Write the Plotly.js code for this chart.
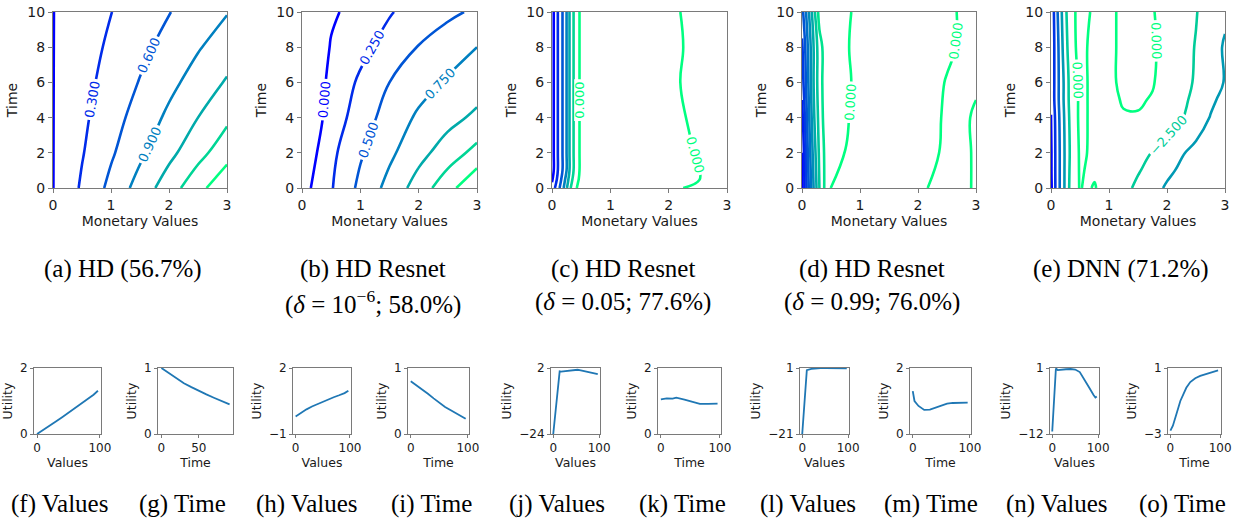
<!DOCTYPE html>
<html>
<head>
<meta charset="utf-8">
<script src="https://cdn.plot.ly/plotly-3.0.1.min.js"></script>
<style>html,body{margin:0;padding:0;background:#fff;}#chart{width:1239px;height:521px;}</style>
</head>
<body>
<div id="chart"></div>
<script>
// ---------- contour data ----------
const aX = [0, 0.5, 1, 1.5, 2, 2.5, 3];
const aT = [0, 2, 4, 6, 8, 10];
const aZ = [
  [-0.005, 0.34, 0.68, 1.02, 1.36, 1.70, 2.04],
  [-0.005, 0.28, 0.56, 0.84, 1.12, 1.40, 1.68],
  [-0.005, 0.24, 0.48, 0.72, 0.96, 1.20, 1.44],
  [-0.005, 0.205, 0.41, 0.615, 0.82, 1.025, 1.23],
  [-0.005, 0.175, 0.35, 0.525, 0.70, 0.875, 1.05],
  [-0.005, 0.148, 0.295, 0.443, 0.59, 0.738, 0.885]
];
const aLevels = [0, 1.8, 0.3];

const bX = [0, 0.5, 1, 1.5, 2, 2.5, 3];
const bT = [0, 2, 4, 6, 8, 10];
const bZ = [
  [-0.10, 0.23, 0.56, 0.83, 1.11, 1.41, 1.72],
  [-0.20, 0.19, 0.47, 0.70, 0.92, 1.12, 1.33],
  [-0.25, 0.10, 0.38, 0.60, 0.79, 0.92, 1.05],
  [-0.30, 0.07, 0.29, 0.50, 0.65, 0.78, 0.88],
  [-0.35, 0.02, 0.18, 0.35, 0.51, 0.63, 0.75],
  [-0.40, -0.04, 0.10, 0.23, 0.36, 0.45, 0.54]
];
const bLevels = [0, 1.5, 0.25];

const cX = [0, 0.05, 0.1, 0.15, 0.2, 0.25, 0.3, 0.35, 0.4, 0.45, 0.5, 1, 1.5, 2, 2.5, 3];
const cT = [0, 0.5, 1, 2, 4, 6, 8, 10];
const cZ = [
  [-23, -20, -17.5, -15, -12, -8.5, -5, -2.5, -0.3, 0.3, 0.6, 1.3, 1.5, 0.8, -0.8, -1.2],
  [-24.5, -22, -19, -16.5, -13.5, -10.5, -6.5, -4, -1.5, -0.1, 0.5, 1.4, 1.55, 0.8, 0.15, -1.2],
  [-25.5, -23, -20, -17.5, -15, -12, -8, -5, -2.5, -0.3, 0.4, 1.5, 1.6, 0.8, 0.08, -1.2],
  [-25.5, -23, -20, -17.5, -15, -12, -8, -5, -2.5, -0.3, 0.4, 1.5, 1.6, 0.8, -0.1, -1.2],
  [-25.5, -23, -20, -17.5, -15, -12, -8, -5, -2.5, -0.3, 0.4, 1.5, 1.6, 0.8, -0.55, -1.2],
  [-25.5, -23, -20, -17.5, -15, -12, -8, -5, -2.5, -0.3, 0.4, 1.5, 1.6, 0.8, -1.2, -1.2],
  [-25.5, -23, -20, -17.5, -15, -12, -8, -5, -2.5, -0.3, 0.4, 1.5, 1.6, 0.8, -0.8, -1.2],
  [-25.5, -23, -20, -17.5, -15, -12, -8, -5, -2.5, -0.3, 0.4, 1.5, 1.6, 0.8, -1.2, -1.2]
];
const cLevels = [-24, 0, 4];

const dX = [0, 0.1, 0.2, 0.3, 0.4, 0.5, 0.75, 1, 1.5, 2, 2.5, 2.75, 3];
const dT = [0, 2, 4, 6, 8, 10];
const dZ = [
  [-23, -16, -10, -5, -2, 0.1, 0.3, 0.4, 0.5, 0.1, -0.2, -0.1, 0.05],
  [-22.5, -15, -9, -4.5, -2, -0.6, 0.02, 0.3, 0.5, 0.4, -0.15, -0.2, 0.1],
  [-21, -14, -8, -4, -1.5, -0.8, -0.1, 0.3, 0.5, 0.4, -0.1, -0.15, 0.1],
  [-19, -13, -7.5, -3.5, -1.5, -1, -0.2, 0.3, 0.6, 0.5, -0.05, -0.2, -0.1],
  [-18, -12.5, -7.5, -3.5, -1.5, -1, -0.1, 0.3, 0.6, 0.5, 0.15, -0.1, -0.2],
  [-16, -11, -6, -1.5, -0.8, -0.6, -0.2, 0.3, 0.6, 0.5, 0.2, -0.1, -0.2]
];
const dLevels = [-22.5, 0, 2.5];

const eX = [0, 0.1, 0.2, 0.3, 0.4, 0.5, 0.6, 0.75, 1, 1.25, 1.5, 1.75, 2, 2.25, 2.5, 2.75, 3];
const eT = [0, 1, 2, 4, 5, 6, 8, 10];
const eZ = [
  [-13, -9, -6, -2.8, -0.6, 0.1, -0.2, 0.1, -0.8, -1.8, -3.0, -4.2, -5.3, -5.8, -6.2, -6.6, -7.0],
  [-12.8, -9, -6, -2.9, -0.7, 0.15, -0.05, -0.2, -0.8, -1.5, -2.3, -3.3, -4.5, -5.4, -6.0, -6.5, -7.0],
  [-12.8, -9, -6, -3, -0.8, 0.2, 0.05, -0.3, -0.7, -1.2, -1.8, -2.6, -3.5, -4.8, -5.6, -6.2, -6.8],
  [-12.6, -8.8, -5.8, -2.8, -0.6, 0.3, 0.1, -0.4, -0.4, -0.1, -0.1, -0.4, -1.2, -2.3, -3.8, -5.1, -6.0],
  [-12, -8.5, -5.5, -2.6, -0.6, 0.3, 0.1, -0.4, -0.3, 0.1, 0.15, -0.1, -0.8, -1.9, -3.2, -4.6, -5.6],
  [-12, -8.5, -5.5, -2.6, -0.5, 0.3, 0.1, -0.4, -0.2, 0.2, 0.3, 0.1, -0.6, -1.6, -2.8, -4.2, -5.1],
  [-12, -8.5, -5, -2, -0.2, 0.5, 0.1, -0.5, -0.4, 0.4, 0.5, 0.3, -0.8, -1.8, -2.6, -3.8, -5.3],
  [-12, -8, -4.5, -1.5, -0.1, 0.4, 0.2, -0.2, -0.3, 0.3, 0.5, 0.1, -0.6, -1.5, -2.4, -3.5, -4.5]
];
const eLevels = [-12.5, 0, 2.5];

// ---------- utility curves ----------
const fX = [0, 10, 20, 30, 40, 50, 60, 70, 80, 90, 97];
const fY = [0, 0.12, 0.25, 0.38, 0.51, 0.64, 0.78, 0.92, 1.05, 1.19, 1.31];
const gX = [0, 10, 20, 30, 40, 50, 60, 70, 80, 91];
const gY = [1.0, 0.92, 0.84, 0.77, 0.71, 0.65, 0.60, 0.55, 0.50, 0.45];
const hX = [0, 10, 20, 30, 40, 50, 60, 70, 80, 90, 97];
const hY = [-0.2, -0.03, 0.12, 0.25, 0.36, 0.47, 0.57, 0.67, 0.76, 0.86, 0.97];
const iX = [0, 10, 20, 30, 40, 50, 60, 70, 80, 90, 96];
const iY = [0.8, 0.74, 0.68, 0.61, 0.54, 0.47, 0.41, 0.36, 0.31, 0.26, 0.23];
const jX = [0, 14, 17, 30, 40, 53, 60, 70, 80, 90, 97];
const jY = [-24, 0.7, 0.6, 0.9, 1.1, 1.3, 1.1, 0.7, 0.3, -0.1, -0.4];
const kX = [0, 10, 20, 26, 40, 50, 60, 66, 80, 96];
const kY = [1.05, 1.08, 1.07, 1.1, 1.04, 0.99, 0.94, 0.91, 0.91, 0.92];
const lX = [0, 10, 20, 30, 40, 50, 60, 70, 80, 90, 97];
const lY = [-21, 0.3, 0.7, 0.9, 0.95, 0.95, 0.9, 0.9, 0.85, 0.8, 0.85];
const mX = [0, 3, 10, 20, 30, 40, 50, 60, 70, 80, 96];
const mY = [1.3, 1.0, 0.85, 0.73, 0.74, 0.8, 0.87, 0.92, 0.94, 0.94, 0.95];
const nX = [0, 8, 12, 20, 30, 40, 50, 60, 70, 80, 90, 94, 97];
const nY = [-11.5, 0.9, 0.6, 0.7, 0.75, 0.8, 0.7, 0.2, -1.2, -2.8, -4.3, -4.8, -4.6];
const oX = [0, 5, 12, 20, 26, 32, 40, 50, 60, 70, 80, 90, 96];
const oY = [-2.8, -2.5, -1.8, -1.0, -0.6, -0.2, 0.15, 0.38, 0.52, 0.62, 0.7, 0.78, 0.85];

const smallXTitles = ['Values', 'Time', 'Values', 'Time', 'Values', 'Time', 'Values', 'Time', 'Values', 'Time'];
const smallYLims = [[0, 2], [0, 1], [-1, 2], [0, 1], [-24, 2], [0, 2], [-21, 1], [0, 2], [-12, 1], [-3, 1]];
const smallXTicks = [[0, 100], [0, 50], [0, 100], [0, 100], [0, 100], [0, 100], [0, 100], [0, 100], [0, 100], [0, 100]];

const capTop1 = ['(a) HD (56.7%)', '(b) HD Resnet', '(c) HD Resnet', '(d) HD Resnet', '(e) DNN (71.2%)'];
const capTop2 = ['', '(<i>δ</i> = 10<sup>−6</sup>; 58.0%)', '(<i>δ</i> = 0.05; 77.6%)', '(<i>δ</i> = 0.99; 76.0%)', ''];
const capBottom = ['(f) Values', '(g) Time', '(h) Values', '(i) Time', '(j) Values', '(k) Time', '(l) Values', '(m) Time', '(n) Values', '(o) Time'];

// ---------- layout geometry ----------
const W = 1239, H = 521;
const topBoxes = [[53, 227], [302, 477], [552, 727], [802, 976], [1051, 1225]];
const topY = [12, 188];
const botBoxes = [[34, 101], [158, 233], [293, 351], [408, 469], [551, 600], [658, 721], [800, 849], [910, 971], [1050, 1099], [1168, 1221]];
const botY = [368, 434];
const capTopX = [123, 373, 623, 872, 1121];
const capBotX = [59, 183, 307, 432, 557, 682, 808, 931, 1057, 1182];

const winter = [[0, 'rgb(0,0,255)'], [1, 'rgb(0,255,128)']];
const spine = '#7a7a7a';

const contourSets = [[aX, aT, aZ, aLevels], [bX, bT, bZ, bLevels], [cX, cT, cZ, cLevels], [dX, dT, dZ, dLevels], [eX, eT, eZ, eLevels]];
const curves = [[fX, fY], [gX, gY], [hX, hY], [iX, iY], [jX, jY], [kX, kY], [lX, lY], [mX, mY], [nX, nY], [oX, oY]];

const traces = [];
const layout = {
  width: W, height: H,
  margin: {l: 0, r: 0, t: 0, b: 0},
  paper_bgcolor: '#ffffff', plot_bgcolor: '#ffffff',
  showlegend: false,
  font: {family: 'DejaVu Sans', color: '#1a1a1a'},
  annotations: []
};

function ax(n) { return n === 1 ? '' : String(n); }

contourSets.forEach((s, i) => {
  const n = i + 1;
  traces.push({
    type: 'contour', x: s[0], y: s[1], z: s[2],
    xaxis: 'x' + ax(n), yaxis: 'y' + ax(n),
    colorscale: winter, zauto: false, zmin: s[3][0], zmax: s[3][1], showscale: false,
    autocontour: false,
    contours: {coloring: 'lines', start: s[3][0], end: s[3][1], size: s[3][2], showlabels: true,
      labelformat: '.3f', labelfont: {family: 'DejaVu Sans', size: 13}},
    line: {width: 2.6, smoothing: 1.2},
    hoverinfo: 'skip'
  });
  const b = topBoxes[i];
  layout['xaxis' + ax(n)] = {
    domain: [b[0] / W, b[1] / W], anchor: 'y' + ax(n), range: [0, 3], tickvals: [0, 1, 2, 3],
    showgrid: false, zeroline: false, showline: true, mirror: true, linecolor: spine, linewidth: 1,
    ticks: 'outside', ticklen: 4, tickcolor: spine, tickfont: {size: 14, color: '#1a1a1a'},
    title: {text: 'Monetary Values', font: {size: 14, color: '#1a1a1a'}, standoff: 4}
  };
  layout['yaxis' + ax(n)] = {
    domain: [1 - topY[1] / H, 1 - topY[0] / H], anchor: 'x' + ax(n), range: [0, 10], tickvals: [0, 2, 4, 6, 8, 10],
    showgrid: false, zeroline: false, showline: true, mirror: true, linecolor: spine, linewidth: 1,
    ticks: 'outside', ticklen: 4, tickcolor: spine, tickfont: {size: 14, color: '#1a1a1a'},
    title: {text: 'Time', font: {size: 14, color: '#1a1a1a'}, standoff: 6}
  };
});

curves.forEach((c, i) => {
  const n = i + 6;
  traces.push({
    type: 'scatter', mode: 'lines', x: c[0], y: c[1],
    xaxis: 'x' + n, yaxis: 'y' + n,
    line: {color: '#1f77b4', width: 1.8}, hoverinfo: 'skip'
  });
  const b = botBoxes[i];
  const xr = smallXTicks[i][1] === 50 ? [-4.55, 95.55] : [-4.85, 101.85];
  layout['xaxis' + n] = {
    domain: [b[0] / W, b[1] / W], anchor: 'y' + n, range: xr, tickvals: smallXTicks[i],
    showgrid: false, zeroline: false, showline: true, mirror: true, linecolor: spine, linewidth: 1,
    ticks: 'outside', ticklen: 3, tickcolor: spine, tickfont: {size: 12, color: '#1a1a1a'},
    title: {text: smallXTitles[i], font: {size: 12.5, color: '#1a1a1a'}, standoff: 3}
  };
  layout['yaxis' + n] = {
    domain: [1 - botY[1] / H, 1 - botY[0] / H], anchor: 'x' + n, range: smallYLims[i], tickvals: smallYLims[i],
    showgrid: false, zeroline: false, showline: true, mirror: true, linecolor: spine, linewidth: 1,
    ticks: 'outside', ticklen: 3, tickcolor: spine, tickfont: {size: 12, color: '#1a1a1a'},
    title: {text: 'Utility', font: {size: 12.5, color: '#1a1a1a'}, standoff: 4}
  };
});

const capFont = {family: 'Liberation Serif', size: 25, color: '#000'};
capTop1.forEach((t, i) => {
  layout.annotations.push({xref: 'paper', yref: 'paper', x: capTopX[i] / W, y: 1 - 269 / H, text: t,
    showarrow: false, xanchor: 'center', yanchor: 'middle', font: capFont});
  if (capTop2[i]) layout.annotations.push({xref: 'paper', yref: 'paper', x: capTopX[i] / W, y: 1 - 302 / H, text: capTop2[i],
    showarrow: false, xanchor: 'center', yanchor: 'middle', font: capFont});
});
capBottom.forEach((t, i) => {
  layout.annotations.push({xref: 'paper', yref: 'paper', x: capBotX[i] / W, y: 1 - 504 / H, text: t,
    showarrow: false, xanchor: 'center', yanchor: 'middle', font: capFont});
});

Plotly.newPlot('chart', traces, layout, {staticPlot: true, displayModeBar: false});
</script>
</body>
</html>
